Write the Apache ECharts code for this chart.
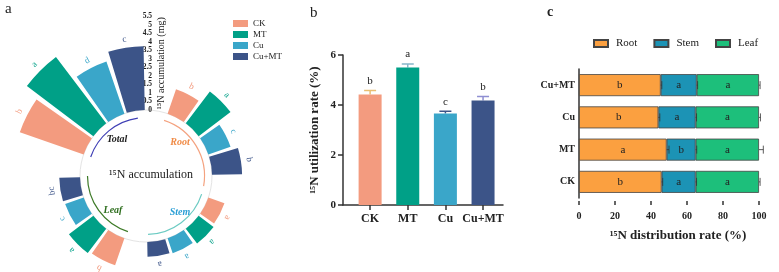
<!DOCTYPE html>
<html>
<head>
<meta charset="utf-8">
<script src="https://cdn.jsdelivr.net/npm/echarts@6/dist/echarts.min.js"></script>
<style>html,body{margin:0;padding:0;background:#fff}#main{width:779px;height:272px}</style>
</head>
<body>
<div id="main"></div>
<script>
var SERIF = "'Liberation Serif','Times New Roman',serif";
var AXIS_COLOR = '#333';
var treatments = ['CK', 'MT', 'Cu', 'Cu+MT'];
var colors = ['#F39B7F', '#00A087', '#3AA6C9', '#3C5488'];
var errColors = ['#E9BE72', '#86B6C9', '#3C5488', '#8F8FD2'];

// a: 15N accumulation (mg), order CK, MT, Cu, Cu+MT
var organs = ['Root', 'Stem', 'Leaf', 'Total'];
var accRoot = [1.52, 2.35, 1.38, 1.77];
var accStem = [1.0, 1.1, 0.92, 0.87];
var accLeaf = [1.68, 1.8, 1.15, 1.22];
var accTotal = [3.97, 4.9, 3.24, 3.75];
var letRoot = ['b', 'a', 'c', 'b'];
var letStem = ['a', 'a', 'a', 'a'];
var letLeaf = ['b', 'a', 'c', 'bc'];
var letTotal = ['b', 'a', 'd', 'c'];

// b: 15N utilization rate (%)
var utilRate = [4.42, 5.5, 3.66, 4.18];
var utilErr = [0.16, 0.14, 0.09, 0.16];
var utilLetters = ['b', 'a', 'c', 'b'];
var utilPos = [0, 1, 2, 3];

// c: 15N distribution rate (%)
var distCats = ['CK', 'MT', 'Cu', 'Cu+MT'];
var distRoot = [45.9, 48.7, 44.1, 45.4];
var distStem = [18.9, 16.1, 20.7, 20.0];
var distLeaf = [35.2, 35.2, 35.2, 34.6];
var errRoot = [0.6, 1.3, 0.8, 0.6];
var errStem = [0.5, 0.6, 0.5, 0.5];
var errLeaf = [0.6, 2.4, 0.8, 0.6];
var letDistRoot = ['b', 'a', 'b', 'b'];
var letDistStem = ['a', 'b', 'a', 'a'];
var letDistLeaf = ['a', 'a', 'a', 'a'];
var distTicks = [0, 20, 40, 60, 80, 100];
var distColors = ['#FBA040', '#1C93B5', '#1DBF7B'];

var chart = echarts.init(document.getElementById('main'));

var accByOrgan = [accRoot, accStem, accLeaf, accTotal];
var letByOrgan = [letRoot, letStem, letLeaf, letTotal];
var slots = [];
organs.forEach(function(o) {
	slots.push('gap-' + o);
	treatments.forEach(function(t) { slots.push(o + '-' + t); });
});

var CX = 146, CY = 176, R0 = 66, R1 = 159.5;
function arc(a0, a1, color) {
	return {
		type: 'arc',
		shape: { cx: CX, cy: CY, r: 58.5, startAngle: (a0 - 90) * Math.PI / 180, endAngle: (a1 - 90) * Math.PI / 180, clockwise: true },
		style: { stroke: color, lineWidth: 1.2, fill: null }
	};
}
function groupText(x, y, text, color) {
	return {
		type: 'text', x: x, y: y,
		style: { text: text, fill: color, font: 'italic bold 10px ' + SERIF, align: 'center', verticalAlign: 'middle' }
	};
}

var series = [];
treatments.forEach(function(t, ti) {
	series.push({
		name: t,
		type: 'bar',
		coordinateSystem: 'polar',
		barGap: '-100%',
		barCategoryGap: '12%',
		itemStyle: { color: colors[ti] },
		label: {
			show: true,
			position: 'end',
			distance: 4,
			color: colors[ti],
			fontFamily: SERIF,
			fontSize: 9,
			formatter: function(p) { return letByOrgan[Math.floor(p.dataIndex / 5)][ti]; }
		},
		data: slots.map(function(s, k) {
			return (k % 5) - 1 === ti ? accByOrgan[Math.floor(k / 5)][ti] : '-';
		})
	});
});

// b
series.push({
	name: 'util',
	type: 'bar',
	xAxisIndex: 0, yAxisIndex: 0,
	barWidth: 23,
	data: utilRate.map(function(v, i) { return { value: [utilPos[i], v], itemStyle: { color: colors[i] } }; })
});
series.push({
	name: 'utilErr',
	type: 'custom',
	xAxisIndex: 0, yAxisIndex: 0,
	encode: { x: 0, y: 1 },
	data: utilRate.map(function(v, i) { return [utilPos[i], v, utilErr[i]]; }),
	renderItem: function(params, api) {
		var i = api.value(0), v = api.value(1), e = api.value(2);
		var p0 = api.coord([i, v]), p1 = api.coord([i, v + e]);
		var c = errColors[params.dataIndex];
		return {
			type: 'group', children: [
				{ type: 'line', shape: { x1: p0[0], y1: p0[1], x2: p1[0], y2: p1[1] }, style: { stroke: c, lineWidth: 1.5 } },
				{ type: 'line', shape: { x1: p1[0] - 6, y1: p1[1], x2: p1[0] + 6, y2: p1[1] }, style: { stroke: c, lineWidth: 1.5 } },
				{ type: 'text', x: p1[0], y: p1[1] - 4, style: { text: utilLetters[params.dataIndex], font: '11px ' + SERIF, align: 'center', verticalAlign: 'bottom', fill: '#222' } }
			]
		};
	}
});

// c
var distParts = [['Root', distRoot, errRoot, letDistRoot], ['Stem', distStem, errStem, letDistStem], ['Leaf', distLeaf, errLeaf, letDistLeaf]];
var cum = [0, 0, 0, 0];
var errData = [];
distParts.forEach(function(part, si) {
	series.push({
		name: part[0],
		type: 'bar',
		xAxisIndex: 1, yAxisIndex: 1,
		stack: 'dist',
		barWidth: 22,
		itemStyle: { color: distColors[si], borderColor: '#444', borderWidth: 0.8 },
		label: {
			show: true, position: 'inside', color: '#222', fontFamily: SERIF, fontSize: 11,
			formatter: function(p) { return part[3][p.dataIndex]; }
		},
		data: part[1]
	});
	part[1].forEach(function(v, i) {
		cum[i] += v;
		errData.push([cum[i], i, part[2][i]]);
	});
});
series.push({
	name: 'distErr',
	type: 'custom',
	xAxisIndex: 1, yAxisIndex: 1,
	encode: { x: 0, y: 1 },
	z: 5,
	data: errData,
	renderItem: function(params, api) {
		var v = api.value(0), i = api.value(1), e = api.value(2);
		var p0 = api.coord([v, i]), p1 = api.coord([v + e, i]);
		return {
			type: 'group', children: [
				{ type: 'line', shape: { x1: p0[0], y1: p0[1], x2: p1[0], y2: p1[1] }, style: { stroke: '#333', lineWidth: 0.8 } },
				{ type: 'line', shape: { x1: p1[0], y1: p1[1] - 4, x2: p1[0], y2: p1[1] + 4 }, style: { stroke: '#333', lineWidth: 0.8 } }
			]
		};
	}
});

var axisText = { fontFamily: SERIF, fontWeight: 'bold', color: '#222' };

var option = {
	animation: false,
	backgroundColor: '#fff',
	title: [
		{ text: 'a', left: 0, top: -3, textStyle: { fontFamily: SERIF, fontSize: 15, fontWeight: 'normal', color: '#222' } },
		{ text: 'b', left: 305, top: 1, textStyle: { fontFamily: SERIF, fontSize: 15, fontWeight: 'normal', color: '#222' } },
		{ text: 'c', left: 542, top: 0, textStyle: { fontFamily: SERIF, fontSize: 14, fontWeight: 'bold', color: '#222' } }
	],
	legend: [
		{
			data: treatments, orient: 'vertical', left: 228, top: 14, padding: 5,
			itemWidth: 15, itemHeight: 7, itemGap: 2, icon: 'rect',
			textStyle: { fontFamily: SERIF, fontSize: 9, color: '#222' }
		},
		{
			data: ['Root', 'Stem', 'Leaf'], left: 588, top: 33, padding: 5,
			itemWidth: 14, itemHeight: 7, itemGap: 16, icon: 'rect',
			textStyle: { fontFamily: SERIF, fontSize: 11, color: '#222', padding: [0, 0, 0, 3] }
		}
	],
	polar: { center: [CX, CY], radius: [R0, R1] },
	angleAxis: {
		type: 'category', data: slots, startAngle: 90,
		axisLine: { show: false }, axisTick: { show: false }, axisLabel: { show: false }, splitLine: { show: false }
	},
	radiusAxis: {
		min: 0, max: 5.5, interval: 0.5,
		axisLine: { show: false }, axisTick: { show: false }, splitLine: { show: false },
		axisLabel: { fontFamily: SERIF, fontSize: 7.5, fontWeight: 'bold', color: '#222', margin: -6 },
		name: '\u00b9\u2075N accumulation (mg)', nameLocation: 'middle', nameGap: -5, nameRotate: 90,
		nameTextStyle: { fontFamily: SERIF, fontSize: 10, color: '#222' }
	},
	grid: [
		{ left: 343, right: 276, top: 55, bottom: 67 },
		{ left: 579, right: 2, top: 69, bottom: 74 }
	],
	xAxis: [
		{
			gridIndex: 0, type: 'value', min: -0.72, max: 3.53,
			splitLine: { show: false },
			axisLine: { onZero: false, lineStyle: { color: AXIS_COLOR, width: 1.5 } },
			axisTick: { show: true, length: 5, customValues: utilPos, lineStyle: { color: AXIS_COLOR, width: 1.5 } },
			axisLabel: Object.assign({
				fontSize: 12, margin: 8, customValues: utilPos,
				formatter: function(v) { return treatments[Math.round(v)]; }
			}, axisText)
		},
		{
			gridIndex: 1, type: 'value', min: 0, max: 110, offset: 3,
			splitLine: { show: false },
			axisLine: { lineStyle: { color: AXIS_COLOR, width: 1.5 } },
			axisTick: { show: true, length: 4, customValues: distTicks, lineStyle: { color: AXIS_COLOR, width: 1.5 } },
			axisLabel: Object.assign({ fontSize: 10, margin: 10, customValues: distTicks }, axisText),
			name: '\u00b9\u2075N distribution rate (%)', nameLocation: 'middle', nameGap: 28,
			nameTextStyle: Object.assign({ fontSize: 13 }, axisText)
		}
	],
	yAxis: [
		{
			gridIndex: 0, type: 'value', min: 0, max: 6, interval: 2,
			splitLine: { show: false },
			axisLine: { show: true, onZero: false, lineStyle: { color: AXIS_COLOR, width: 1.5 } },
			axisTick: { show: true, length: 5, lineStyle: { color: AXIS_COLOR, width: 1.5 } },
			axisLabel: Object.assign({ fontSize: 11, margin: 7 }, axisText),
			name: '\u00b9\u2075N utilization rate (%)', nameLocation: 'middle', nameGap: 22,
			nameTextStyle: Object.assign({ fontSize: 13 }, axisText)
		},
		{
			gridIndex: 1, type: 'category', data: distCats,
			axisLine: { lineStyle: { color: AXIS_COLOR, width: 1.5 } },
			axisTick: { alignWithLabel: true, length: 5, lineStyle: { color: AXIS_COLOR, width: 1.5 } },
			axisLabel: Object.assign({ fontSize: 10, margin: 4 }, axisText)
		}
	],
	graphic: [
		{ type: 'circle', shape: { cx: CX, cy: CY, r: R0 }, style: { stroke: '#e4e4e4', lineWidth: 1, fill: null }, z: -1 },
		arc(18, 100, '#F4A27F'),
		arc(108, 178, '#6CCBC3'),
		arc(198, 270, '#3D7A27'),
		arc(289, 352, '#3F3FB5'),
		groupText(117, 139, 'Total', '#222'),
		groupText(180, 142, 'Root', '#F08A45'),
		groupText(180, 212, 'Stem', '#2A9FD6'),
		groupText(113, 210, 'Leaf', '#2E6E1E'),
		{ type: 'text', x: 151, y: 175, style: { text: '\u00b9\u2075N accumulation', fill: '#222', font: '12px ' + SERIF, align: 'center', verticalAlign: 'middle' } }
	],
	series: series
};
chart.setOption(option);
</script>
</body>
</html>
